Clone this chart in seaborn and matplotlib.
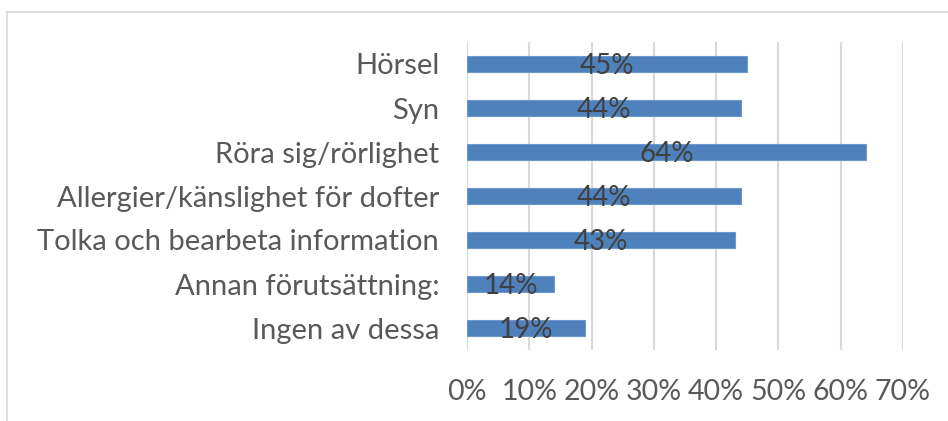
import matplotlib
matplotlib.use("Agg")
import matplotlib.pyplot as plt
import seaborn as sns
import pandas as pd
from matplotlib.lines import Line2D

categories = ["Hörsel", "Syn", "Röra sig/rörlighet", "Allergier/känslighet för dofter",
              "Tolka och bearbeta information", "Annan förutsättning:", "Ingen av dessa"]
shares = [0.45, 0.44, 0.64, 0.44, 0.43, 0.14, 0.19]
tick_values = [0, 0.1, 0.2, 0.3, 0.4, 0.5, 0.6, 0.7]
tick_labels = ["0%", "10%", "20%", "30%", "40%", "50%", "60%", "70%"]

df = pd.DataFrame({"category": categories, "share": shares})

sns.set_style("white")
plt.rcParams["font.family"] = ["Lato", "DejaVu Sans"]

fig = plt.figure(figsize=(9.48, 4.21), dpi=100)
ax = fig.add_axes([467 / 948, 1 - 350 / 421, (903 - 467) / 948, (350 - 42) / 421])

sns.barplot(data=df, x="share", y="category", orient="h", color="#4F81BD",
            saturation=1, width=0.36, edgecolor="#6E98CC", linewidth=0.8, ax=ax)

ax.set_xlim(0, 0.7)
ax.set_ylim(6.5, -0.5)
ax.set_xticks(tick_values)
ax.set_xticklabels(tick_labels)
ax.set_xlabel("")
ax.set_ylabel("")
ax.grid(axis="x", color="#D9D9D9", linewidth=1.5)
ax.set_axisbelow(True)
for s in ax.spines.values():
    s.set_visible(False)
ax.tick_params(axis="x", length=0, pad=21, labelsize=20.5, labelcolor="#595959")
ax.tick_params(axis="y", length=0, pad=20, labelsize=21, labelcolor="#595959")

# value labels in the middle of each bar
for i, v in enumerate(shares):
    ax.text(v / 2, i + 0.04, f"{v:.0%}", ha="center", va="center",
            fontsize=20, color="#404040")

# chart frame
fig.add_artist(Line2D([7 / 948, 1], [1 - 12 / 421, 1 - 12 / 421],
                      transform=fig.transFigure, color="#D9D9D9", linewidth=1.2))
fig.add_artist(Line2D([7 / 948, 7 / 948], [0, 1 - 12 / 421],
                      transform=fig.transFigure, color="#D9D9D9", linewidth=1.2))

fig.savefig("out.png", dpi=100)
